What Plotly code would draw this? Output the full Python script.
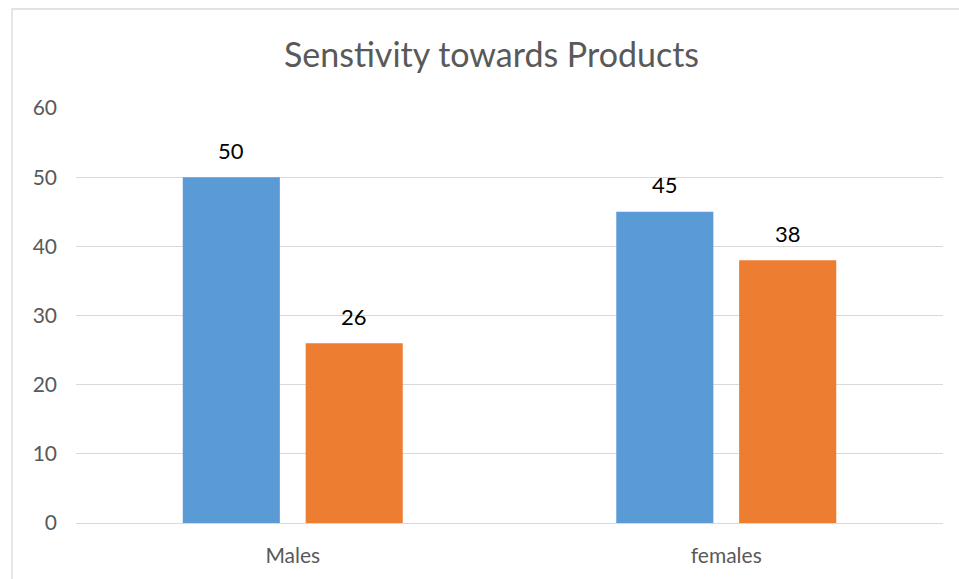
import plotly.graph_objects as go

# Chart data
categories = ["Males", "females"]
series_a = [50, 45]
series_b = [26, 38]
y_ticks = [0, 10, 20, 30, 40, 50, 60]

BLUE = "#5B9BD5"
ORANGE = "#ED7D31"
GRID = "#D9D9D9"
TEXT_GREY = "#595959"
FONT = "Lato"

W, H = 959, 579
M_L, M_R, M_T, M_B = 76, 16, 108, 56
BARGAP = 0.433
GROUPGAP = 0.21

fig = go.Figure()
for name, vals, col in [("Series 1", series_a, BLUE), ("Series 2", series_b, ORANGE)]:
    fig.add_trace(go.Bar(x=categories, y=vals, name=name, marker=dict(color=col, line=dict(width=0))))

# value labels above each bar, shifted onto the bar's slot inside its group
plot_w = W - M_L - M_R
slot_px = plot_w / len(categories) * (1 - BARGAP) / 2
for k, vals in enumerate([series_a, series_b]):
    shift = (k - 0.5) * slot_px
    for c, v in zip(categories, vals):
        fig.add_annotation(x=c, y=v, text=str(v), showarrow=False, xref="x", yref="y",
                           xshift=shift, yshift=27, font=dict(family=FONT, size=22, color="#000000"))

# chart frame
fig.add_shape(type="rect", xref="paper", yref="paper",
              x0=(12 - M_L) / plot_w, x1=1.2, y0=-0.3, y1=1 + (M_T - 9) / (H - M_T - M_B),
              line=dict(color=GRID, width=1.3), fillcolor="rgba(0,0,0,0)", layer="below")

fig.update_layout(
    width=W, height=H,
    margin=dict(l=M_L, r=M_R, t=M_T, b=M_B),
    paper_bgcolor="white", plot_bgcolor="white",
    barmode="group", bargap=BARGAP, bargroupgap=GROUPGAP,
    showlegend=False,
    title=dict(text="Senstivity towards Products", x=491.5 / W, xanchor="center",
               y=1 - 55 / H, yanchor="middle", xref="container", yref="container",
               font=dict(family=FONT, size=34, color=TEXT_GREY)),
    font=dict(family=FONT, color=TEXT_GREY),
)
fig.update_yaxes(range=[0, 60], tickvals=y_ticks, showgrid=True, gridcolor=GRID, gridwidth=1.3,
                 zeroline=False, showline=False, ticks="", ticklabelstandoff=18,
                 tickfont=dict(family=FONT, size=21, color=TEXT_GREY))
fig.update_xaxes(showgrid=False, showline=True, linecolor=GRID, linewidth=1.3, ticks="",
                 ticklabelstandoff=14, tickfont=dict(family=FONT, size=21, color=TEXT_GREY))

fig.write_html("out.html")
